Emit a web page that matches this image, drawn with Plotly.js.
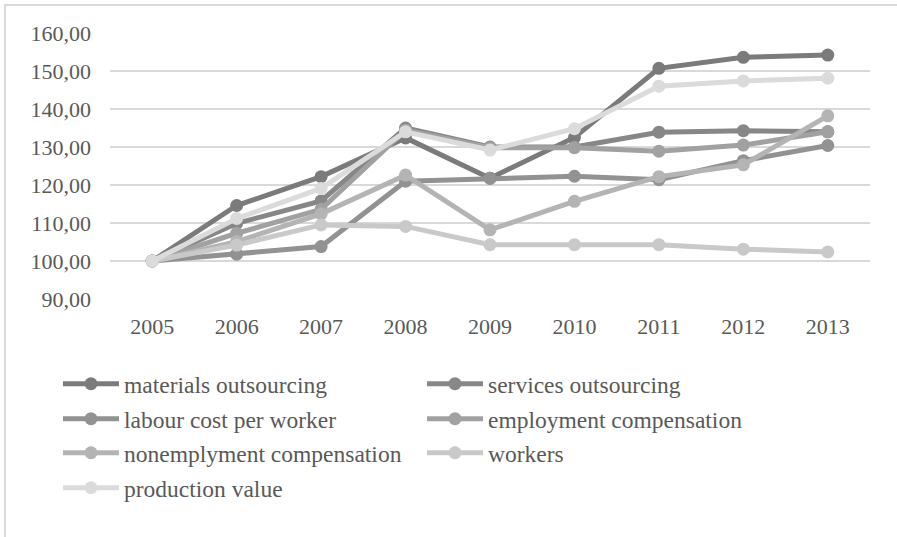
<!DOCTYPE html>
<html>
<head>
<meta charset="utf-8">
<script src="https://cdn.plot.ly/plotly-3.0.1.min.js"></script>
<style>
  html, body { margin: 0; padding: 0; background: #ffffff; overflow: hidden; }
  #frame { position: absolute; left: 4px; top: 4px; width: 1000px; height: 1000px; border-left: 2px solid #d9d9d9; border-top: 2px solid #d9d9d9; }
  #chart { position: absolute; left: 0; top: 0; width: 897px; height: 537px; }
</style>
</head>
<body>
<div id="frame"></div>
<div id="chart"></div>
<script>
const years = ['2005', '2006', '2007', '2008', '2009', '2010', '2011', '2012', '2013'];

const seriesNames = [
  'materials outsourcing',
  'services outsourcing',
  'labour cost per worker',
  'employment compensation',
  'nonemplyment compensation',
  'workers',
  'production value'
];

const materialsOutsourcing     = [100, 114.6, 122.2, 132.4, 121.8, 132.5, 150.7, 153.6, 154.2];
const servicesOutsourcing      = [100, 109.9, 115.8, 135.0, 130.0, 130.0, 133.9, 134.3, 134.0];
const labourCostPerWorker      = [100, 101.8, 103.8, 121.0, 121.8, 122.3, 121.4, 126.4, 130.4];
const employmentCompensation   = [100, 107.3, 113.6, 134.5, 129.8, 129.8, 128.9, 130.5, 134.0];
const nonemploymentCompensation= [100, 105.1, 112.4, 122.6, 108.2, 115.7, 122.2, 125.3, 138.2];
const workers                  = [100, 104.2, 109.5, 109.1, 104.3, 104.3, 104.3, 103.1, 102.4];
const productionValue          = [100, 111.2, 119.1, 134.0, 129.2, 134.8, 146.0, 147.4, 148.1];

const yTicks = [90, 100, 110, 120, 130, 140, 150, 160];

const allValues = [materialsOutsourcing, servicesOutsourcing, labourCostPerWorker,
  employmentCompensation, nonemploymentCompensation, workers, productionValue];
const colors = ['#7b7b7b', '#878787', '#929292', '#a1a1a1', '#b4b4b4', '#c9c9c9', '#dbdbdb'];

// legend positions in pixels (left edge, centre of row)
const W = 897, H = 537;
const legendPos = [
  [58, 384], [422, 384],
  [58, 419], [422, 419],
  [58, 453], [422, 453],
  [58, 488]
];

const traces = allValues.map((vals, i) => ({
  type: 'scatter',
  mode: 'lines+markers',
  x: years,
  y: vals,
  name: seriesNames[i],
  line: { color: colors[i], width: 5 },
  marker: { color: colors[i], size: 13 },
  legend: i === 0 ? 'legend' : 'legend' + (i + 1),
  hoverinfo: 'x+y+name'
}));

const font = { family: '"Liberation Serif", "Times New Roman", serif', color: '#595959' };

const layout = {
  width: W,
  height: H,
  paper_bgcolor: 'rgba(0,0,0,0)',
  plot_bgcolor: 'rgba(0,0,0,0)',
  separators: ',.',
  margin: { l: 110, r: 27, t: 33, b: 238, autoexpand: false },
  font: Object.assign({ size: 22 }, font),
  xaxis: {
    type: 'category',
    range: [-0.5, 8.5],
    showgrid: false,
    zeroline: false,
    showline: false,
    ticks: '',
    tickangle: 0,
    automargin: false,
    ticklabelstandoff: 12,
    tickfont: Object.assign({ size: 22 }, font),
    fixedrange: true
  },
  yaxis: {
    range: [90, 160],
    tickvals: yTicks,
    tickformat: '.2f',
    showgrid: true,
    gridcolor: '#d9d9d9',
    gridwidth: 2,
    zeroline: false,
    showline: false,
    ticks: '',
    automargin: false,
    ticklabelstandoff: 18,
    tickfont: Object.assign({ size: 22 }, font),
    fixedrange: true
  },
  showlegend: true
};

legendPos.forEach((p, i) => {
  const key = i === 0 ? 'legend' : 'legend' + (i + 1);
  layout[key] = {
    xref: 'container', yref: 'container',
    x: p[0] / W, y: 1 - p[1] / H,
    xanchor: 'left', yanchor: 'middle',
    bgcolor: 'rgba(0,0,0,0)',
    borderwidth: 0,
    itemwidth: 56,
    font: Object.assign({ size: 23.5 }, font)
  };
});

Plotly.newPlot('chart', traces, layout, { displayModeBar: false, staticPlot: true });
</script>
</body>
</html>
